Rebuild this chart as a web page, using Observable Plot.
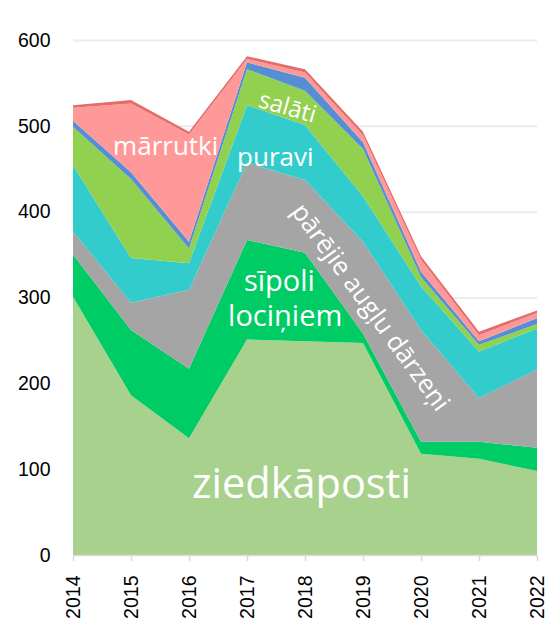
<!DOCTYPE html>
<html><head><meta charset="utf-8">
<script src="https://cdn.jsdelivr.net/npm/d3@7"></script>
<script src="https://cdn.jsdelivr.net/npm/@observablehq/plot@0.6"></script>
<style>body{margin:0;background:#fff} #chart{width:554px;height:629px;overflow:hidden}</style>
</head><body><div id="chart"></div>
<script>
const years = [2014, 2015, 2016, 2017, 2018, 2019, 2020, 2021, 2022];
const seriesNames = ["ziedkāposti", "sīpoli lociņiem", "pārējie augļu dārzeņi", "puravi", "salāti", "zilā sērija", "mārrutki", "sarkanā sērija"];
const ziedkaposti = [301, 186, 136, 251, 249, 247, 118, 112, 98];
const sipoli = [49, 76, 81, 116, 103, 11, 14, 20, 27];
const parejie = [27, 32, 92, 90, 85, 107, 130, 51, 91];
const puravi = [77, 52, 31, 67, 64, 53, 51, 54, 48];
const salati = [45, 92, 17, 42, 40, 55, 11, 8, 5];
const zila = [7, 8, 8, 8, 15, 8, 6, 4, 7];
const marrutki = [15, 80, 125, 4, 6, 8, 14, 7, 6];
const sarkana = [3, 4, 3, 3, 4, 4, 4, 4, 3];
const seriesValues = [ziedkaposti, sipoli, parejie, puravi, salati, zila, marrutki, sarkana];
const seriesColors = ["#a9d18e", "#00cc66", "#a5a5a5", "#33cccc", "#92d050", "#558ed5", "#ff9999", "#e46c6a"];
const yTicks = [0, 100, 200, 300, 400, 500, 600];

// in-chart labels, placed in data units
const labelTexts = ["mārrutki", "salāti", "puravi", "sīpoli", "lociņiem", "ziedkāposti", "pārējie augļu dārzeņi"];
const labelX = [2015.59, 2017.69, 2017.48, 2017.55, 2017.65, 2017.93, 2019.12];
const labelY = [476, 522, 464, 319, 278, 82, 289];
const labelSize = [26, 24, 26, 29, 29, 41.5, 25.5];
const labelRotate = [0, 16, 0, 0, 0, 0, 54];

const data = seriesNames.flatMap((s, i) => years.map((yr, j) => ({year: yr, series: s, value: seriesValues[i][j]})));
const labels = labelTexts.map((t, i) => ({text: t, x: labelX[i], y: labelY[i], size: labelSize[i], rotate: labelRotate[i]}));

const chart = Plot.plot({
  width: 554, height: 629,
  marginLeft: 73, marginRight: 17, marginTop: 40, marginBottom: 74,
  style: {fontFamily: "Liberation Sans, Arial, sans-serif", fontSize: "19.5px", fontWeight: "normal", color: "#000", background: "#fff"},
  x: {type: "linear", domain: [2014, 2022], axis: null},
  y: {domain: [0, 600], axis: null},
  color: {domain: seriesNames, range: seriesColors},
  marks: [
    Plot.gridY(yTicks.filter(d => d > 0), {stroke: "#ececec", strokeOpacity: 1, strokeWidth: 2}),
    Plot.areaY(data, {x: "year", y: "value", fill: "series", order: seriesNames}),
    Plot.ruleY([0], {stroke: "#d9d9d9", strokeWidth: 1.5}),
    Plot.axisX({ticks: years, tickFormat: "d", tickRotate: -90, tickSize: 6, tickPadding: 14, stroke: "#d9d9d9", strokeWidth: 1.5, strokeOpacity: 1, fill: "#000", label: null}),
    Plot.axisY({ticks: yTicks, tickSize: 0, tickPadding: 23, fill: "#000", label: null}),
    Plot.text(labels, {x: "x", y: "y", text: "text", fontSize: "size", rotate: "rotate", fill: "#fff", fontFamily: "Open Sans", textAnchor: "middle", lineAnchor: "middle"})
  ]
});
document.getElementById("chart").appendChild(chart);
</script>
</body></html>
